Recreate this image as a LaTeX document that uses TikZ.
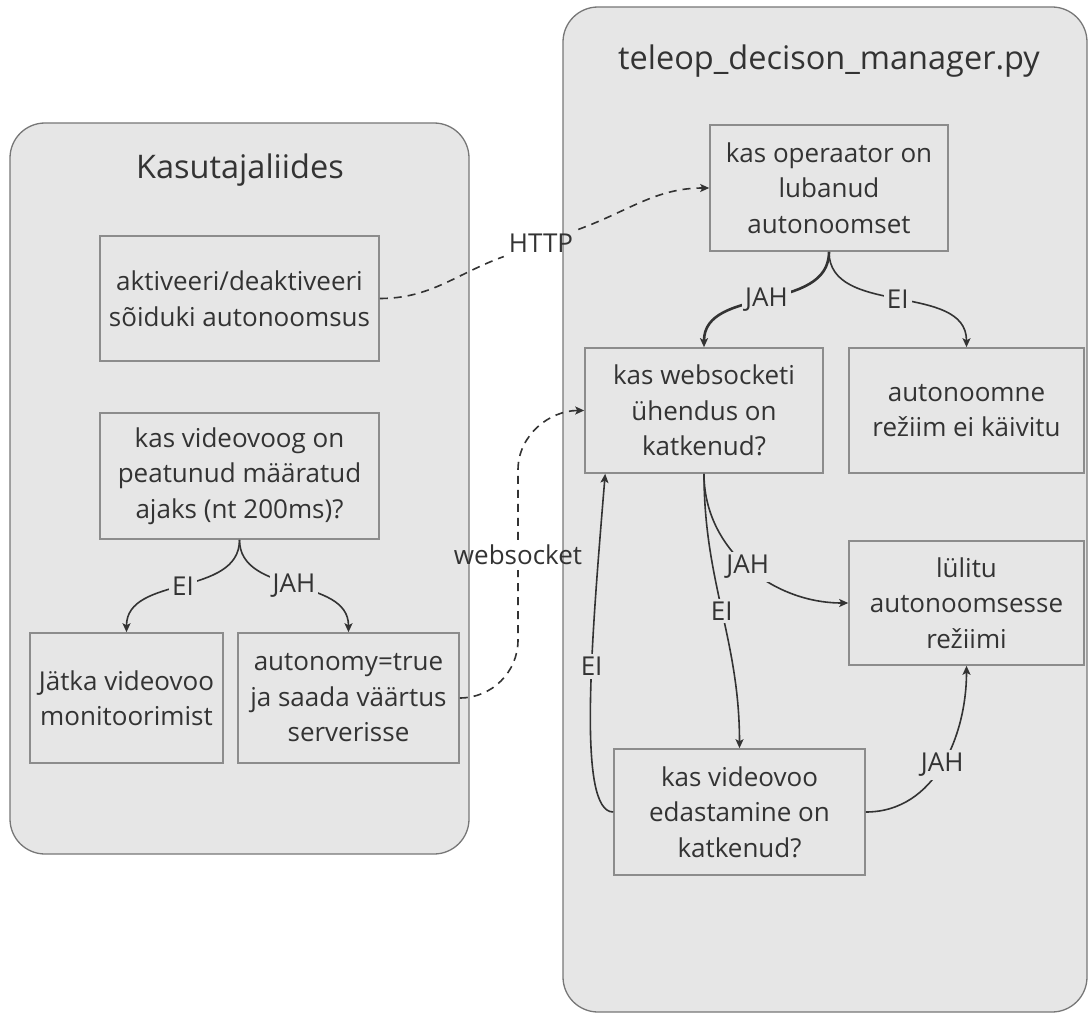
\documentclass[tikz,border=0pt]{standalone}
\usepackage{fontspec}
\setmainfont{Open Sans}
\usetikzlibrary{arrows.meta}
\definecolor{panelgray}{HTML}{E6E6E6}
\definecolor{ink}{HTML}{333333}
\definecolor{rim}{HTML}{8C8C8C}
\begin{document}
\begin{tikzpicture}[x=1pt,y=1pt,
  panel/.style={draw=rim!85!black,fill=panelgray,rounded corners=35pt,line width=1.3pt},
  title/.style={text=ink,font=\fontsize{32.5}{38}\selectfont},
  box/.style={draw=rim,fill=panelgray,line width=1.6pt,align=center,text=ink,
    font=\fontsize{26}{35.5}\selectfont,inner sep=0pt},
  wire/.style={draw=ink,line width=1.6pt,-{Stealth[length=9pt,width=8pt,inset=2pt]}},
  dashwire/.style={wire,dash pattern=on 8pt off 6pt},
  lbl/.style={fill=panelgray,text=ink,font=\fontsize{26}{30}\selectfont,inner sep=3pt},
  freelbl/.style={text=ink,font=\fontsize{26}{30}\selectfont,inner sep=5pt}]
\useasboundingbox (0,0) rectangle (1088,-1014);
\fill[white] (0,0) rectangle (1088,-1014);

\draw[panel] (10,-123) rectangle (469,-854);
\draw[panel] (563,-7) rectangle (1087,-1012);
\node[title] (uititle) at (240,-170) {Kasutajaliides};
\node[title] (mgrtitle) at (829,-61) {teleop\_decison\_manager.py};

% Kasutajaliides
\node[box,minimum width=279pt,minimum height=125pt] (akt) at (239.5,-298.5) {aktiveeri/deaktiveeri\\sõiduki autonoomsus};
\node[box,minimum width=279pt,minimum height=126pt] (vv) at (239.5,-476) {kas videovoog on\\peatunud määratud\\ajaks (nt 200ms)?};
\node[box,minimum width=193pt,minimum height=130pt] (jatka) at (126.5,-698) {Jätka videovoo\\monitoorimist};
\node[box,minimum width=221pt,minimum height=130pt] (aut) at (348.5,-698) {autonomy=true\\ja saada väärtus\\serverisse};

% teleop_decison_manager.py
\node[box,minimum width=238pt,minimum height=126pt] (op) at (829,-188) {kas operaator on\\lubanud\\autonoomset};
\node[box,minimum width=238pt,minimum height=125pt] (ws) at (704,-410.5) {kas websocketi\\ühendus on\\katkenud?};
\node[box,minimum width=235pt,minimum height=125pt] (eibox) at (966.5,-410.5) {autonoomne\\režiim ei käivitu};
\node[box,minimum width=235pt,minimum height=124pt] (lul) at (966.5,-603) {lülitu\\autonoomsesse\\režiimi};
\node[box,minimum width=251pt,minimum height=126pt] (vid) at (739.5,-812) {kas videovoo\\edastamine on\\katkenud?};

\draw[wire] (vv.south) to[out=-90,in=90] node[lbl] {EI} (jatka.north);
\draw[wire] (vv.south) to[out=-90,in=90] node[lbl] {JAH} (aut.north);

\draw[wire,line width=2.6pt] (op.south) to[out=-90,in=90] node[lbl] {JAH} (ws.north);
\draw[wire] (op.south) to[out=-90,in=90] node[lbl] {EI} (eibox.north);
\draw[wire] (ws.south) to[out=-90,in=180] node[lbl] {JAH} (lul.west);
\draw[wire] (ws.south) to[out=-90,in=90] node[lbl] {EI} (vid.north);
\draw[wire] (vid.east) to[out=0,in=-90] node[lbl] {JAH} (lul.south);
\coordinate (wsin) at ([xshift=21pt]ws.south west);
\draw[wire] (vid.west) .. controls +(-36,0) and +(-14,-170) .. node[lbl,pos=0.6] {EI} (wsin);

% HTTP / websocket
\node[freelbl] (http) at (541,-243) {HTTP};
\draw[dashwire,-] (akt.east) to[out=0,in=-160] (http);
\draw[dashwire] (http) to[out=20,in=180] (op.west);
\node[freelbl] (sock) at (518,-555) {websocket};
\coordinate (socklow) at (518,-640);
\coordinate (sockhigh) at (518,-470);
\draw[dashwire,-] (aut.east) to[out=0,in=-90] (socklow) -- (sock);
\draw[dashwire] (sock) -- (sockhigh) to[out=90,in=180] (ws.west);
\end{tikzpicture}
\end{document}
